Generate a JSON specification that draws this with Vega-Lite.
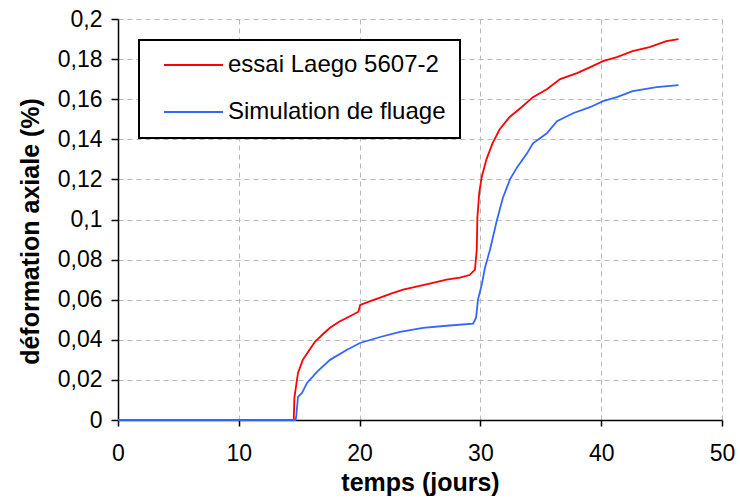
{
  "$schema": "https://vega.github.io/schema/vega-lite/v6.json",
  "width": 604,
  "height": 401,
  "autosize": {"type": "none"},
  "padding": {"left": 118, "top": 19, "right": 18, "bottom": 79},
  "background": "white",
  "data": {
    "values": [
      {"i": 0, "s": "essai Laego 5607-2", "t": 0, "v": 0},
      {"i": 1, "s": "essai Laego 5607-2", "t": 14.55, "v": 0},
      {"i": 2, "s": "essai Laego 5607-2", "t": 14.6, "v": 0.011},
      {"i": 3, "s": "essai Laego 5607-2", "t": 14.9, "v": 0.0235},
      {"i": 4, "s": "essai Laego 5607-2", "t": 15.3, "v": 0.03},
      {"i": 5, "s": "essai Laego 5607-2", "t": 15.8, "v": 0.0345},
      {"i": 6, "s": "essai Laego 5607-2", "t": 16.3, "v": 0.039},
      {"i": 7, "s": "essai Laego 5607-2", "t": 17.0, "v": 0.043},
      {"i": 8, "s": "essai Laego 5607-2", "t": 17.55, "v": 0.046},
      {"i": 9, "s": "essai Laego 5607-2", "t": 18.3, "v": 0.049},
      {"i": 10, "s": "essai Laego 5607-2", "t": 18.96, "v": 0.051},
      {"i": 11, "s": "essai Laego 5607-2", "t": 19.9, "v": 0.054},
      {"i": 12, "s": "essai Laego 5607-2", "t": 20.05, "v": 0.0574},
      {"i": 13, "s": "essai Laego 5607-2", "t": 21.0, "v": 0.0595},
      {"i": 14, "s": "essai Laego 5607-2", "t": 21.7, "v": 0.061},
      {"i": 15, "s": "essai Laego 5607-2", "t": 22.6, "v": 0.063},
      {"i": 16, "s": "essai Laego 5607-2", "t": 23.6, "v": 0.065},
      {"i": 17, "s": "essai Laego 5607-2", "t": 24.7, "v": 0.0665},
      {"i": 18, "s": "essai Laego 5607-2", "t": 25.8, "v": 0.068},
      {"i": 19, "s": "essai Laego 5607-2", "t": 27.2, "v": 0.07},
      {"i": 20, "s": "essai Laego 5607-2", "t": 28.3, "v": 0.071},
      {"i": 21, "s": "essai Laego 5607-2", "t": 29.1, "v": 0.0723},
      {"i": 22, "s": "essai Laego 5607-2", "t": 29.55, "v": 0.075},
      {"i": 23, "s": "essai Laego 5607-2", "t": 29.7, "v": 0.085},
      {"i": 24, "s": "essai Laego 5607-2", "t": 29.75, "v": 0.101},
      {"i": 25, "s": "essai Laego 5607-2", "t": 29.9, "v": 0.113},
      {"i": 26, "s": "essai Laego 5607-2", "t": 30.1, "v": 0.121},
      {"i": 27, "s": "essai Laego 5607-2", "t": 30.5, "v": 0.13},
      {"i": 28, "s": "essai Laego 5607-2", "t": 31.0, "v": 0.138},
      {"i": 29, "s": "essai Laego 5607-2", "t": 31.6, "v": 0.145},
      {"i": 30, "s": "essai Laego 5607-2", "t": 32.4, "v": 0.151},
      {"i": 31, "s": "essai Laego 5607-2", "t": 33.4, "v": 0.156},
      {"i": 32, "s": "essai Laego 5607-2", "t": 34.35, "v": 0.161},
      {"i": 33, "s": "essai Laego 5607-2", "t": 35.5, "v": 0.165},
      {"i": 34, "s": "essai Laego 5607-2", "t": 36.6, "v": 0.17},
      {"i": 35, "s": "essai Laego 5607-2", "t": 38.0, "v": 0.173},
      {"i": 36, "s": "essai Laego 5607-2", "t": 39.1, "v": 0.176},
      {"i": 37, "s": "essai Laego 5607-2", "t": 40.15, "v": 0.179},
      {"i": 38, "s": "essai Laego 5607-2", "t": 41.3, "v": 0.181},
      {"i": 39, "s": "essai Laego 5607-2", "t": 42.6, "v": 0.184},
      {"i": 40, "s": "essai Laego 5607-2", "t": 44.0, "v": 0.186},
      {"i": 41, "s": "essai Laego 5607-2", "t": 45.4, "v": 0.189},
      {"i": 42, "s": "essai Laego 5607-2", "t": 46.4, "v": 0.19},
      {"i": 100, "s": "Simulation de fluage", "t": 0, "v": 0},
      {"i": 101, "s": "Simulation de fluage", "t": 14.7, "v": 0},
      {"i": 102, "s": "Simulation de fluage", "t": 14.75, "v": 0.0015},
      {"i": 103, "s": "Simulation de fluage", "t": 14.9, "v": 0.0115},
      {"i": 104, "s": "Simulation de fluage", "t": 15.23, "v": 0.0135},
      {"i": 105, "s": "Simulation de fluage", "t": 15.65, "v": 0.0185},
      {"i": 106, "s": "Simulation de fluage", "t": 16.47, "v": 0.024},
      {"i": 107, "s": "Simulation de fluage", "t": 17.55, "v": 0.03},
      {"i": 108, "s": "Simulation de fluage", "t": 18.96, "v": 0.035},
      {"i": 109, "s": "Simulation de fluage", "t": 20.03, "v": 0.0384},
      {"i": 110, "s": "Simulation de fluage", "t": 21.7, "v": 0.0414},
      {"i": 111, "s": "Simulation de fluage", "t": 23.35, "v": 0.044},
      {"i": 112, "s": "Simulation de fluage", "t": 25.25, "v": 0.046},
      {"i": 113, "s": "Simulation de fluage", "t": 27.2, "v": 0.047},
      {"i": 114, "s": "Simulation de fluage", "t": 29.4, "v": 0.048},
      {"i": 115, "s": "Simulation de fluage", "t": 29.64, "v": 0.051},
      {"i": 116, "s": "Simulation de fluage", "t": 29.8, "v": 0.06},
      {"i": 117, "s": "Simulation de fluage", "t": 30.13, "v": 0.068},
      {"i": 118, "s": "Simulation de fluage", "t": 30.38, "v": 0.076},
      {"i": 119, "s": "Simulation de fluage", "t": 30.8, "v": 0.085},
      {"i": 120, "s": "Simulation de fluage", "t": 31.37, "v": 0.0998},
      {"i": 121, "s": "Simulation de fluage", "t": 31.87, "v": 0.111},
      {"i": 122, "s": "Simulation de fluage", "t": 32.45, "v": 0.12},
      {"i": 123, "s": "Simulation de fluage", "t": 33.03, "v": 0.126},
      {"i": 124, "s": "Simulation de fluage", "t": 33.86, "v": 0.133},
      {"i": 125, "s": "Simulation de fluage", "t": 34.35, "v": 0.138},
      {"i": 126, "s": "Simulation de fluage", "t": 35.5, "v": 0.143},
      {"i": 127, "s": "Simulation de fluage", "t": 36.34, "v": 0.149},
      {"i": 128, "s": "Simulation de fluage", "t": 37.67, "v": 0.153},
      {"i": 129, "s": "Simulation de fluage", "t": 39.07, "v": 0.156},
      {"i": 130, "s": "Simulation de fluage", "t": 40.15, "v": 0.159},
      {"i": 131, "s": "Simulation de fluage", "t": 41.3, "v": 0.161},
      {"i": 132, "s": "Simulation de fluage", "t": 42.6, "v": 0.164},
      {"i": 133, "s": "Simulation de fluage", "t": 44.6, "v": 0.166},
      {"i": 134, "s": "Simulation de fluage", "t": 46.4, "v": 0.167}
    ]
  },
  "mark": {"type": "line", "strokeWidth": 1.8, "interpolate": "linear"},
  "encoding": {
    "x": {
      "field": "t",
      "type": "quantitative",
      "scale": {"domain": [0, 50], "nice": false, "zero": false},
      "axis": {
        "title": "temps (jours)",
        "values": [0, 10, 20, 30, 40, 50],
        "tickSize": 6,
        "labelPadding": 16,
        "titlePadding": 5,
        "labelAngle": 0,
        "labelFlush": false
      }
    },
    "y": {
      "field": "v",
      "type": "quantitative",
      "scale": {"domain": [0, 0.2], "nice": false},
      "axis": {
        "title": "déformation axiale (%)",
        "values": [0, 0.02, 0.04, 0.06, 0.08, 0.1, 0.12, 0.14, 0.16, 0.18, 0.2],
        "labelExpr": "replace(format(datum.value, '~g'), '.', ',')",
        "tickSize": 7,
        "labelPadding": 9,
        "titlePadding": 14,
        "titleY": 212,
        "labelFlush": false
      }
    },
    "color": {
      "field": "s",
      "type": "nominal",
      "scale": {
        "domain": ["essai Laego 5607-2", "Simulation de fluage"],
        "range": ["#ff0000", "#3366ff"]
      },
      "legend": {
        "title": null,
        "orient": "none",
        "legendX": 21,
        "legendY": 21,
        "padding": 14,
        "symbolType": "stroke",
        "symbolSize": 3481,
        "symbolStrokeWidth": 2,
        "symbolOffset": 10,
        "labelOffset": 4,
        "clipHeight": 22,
        "rowPadding": 23,
        "strokeColor": "black",
        "fillColor": "white",
        "labelFont": "Liberation Sans",
        "labelFontSize": 24,
        "labelColor": "black",
        "labelLimit": 400
      }
    },
    "order": {"field": "i", "type": "quantitative"}
  },
  "config": {
    "view": {"stroke": null},
    "axis": {
      "labelFont": "Liberation Sans",
      "labelFontSize": 23,
      "labelColor": "black",
      "titleFont": "Liberation Sans",
      "titleFontSize": 25,
      "titleFontWeight": "bold",
      "titleColor": "black",
      "domainColor": "black",
      "domainWidth": 1.5,
      "tickColor": "black",
      "tickWidth": 1.5,
      "grid": true,
      "gridColor": "#b8b8b8",
      "gridDash": [5, 4],
      "gridWidth": 1
    },
    "legend": {"strokeWidth": 2}
  }
}
